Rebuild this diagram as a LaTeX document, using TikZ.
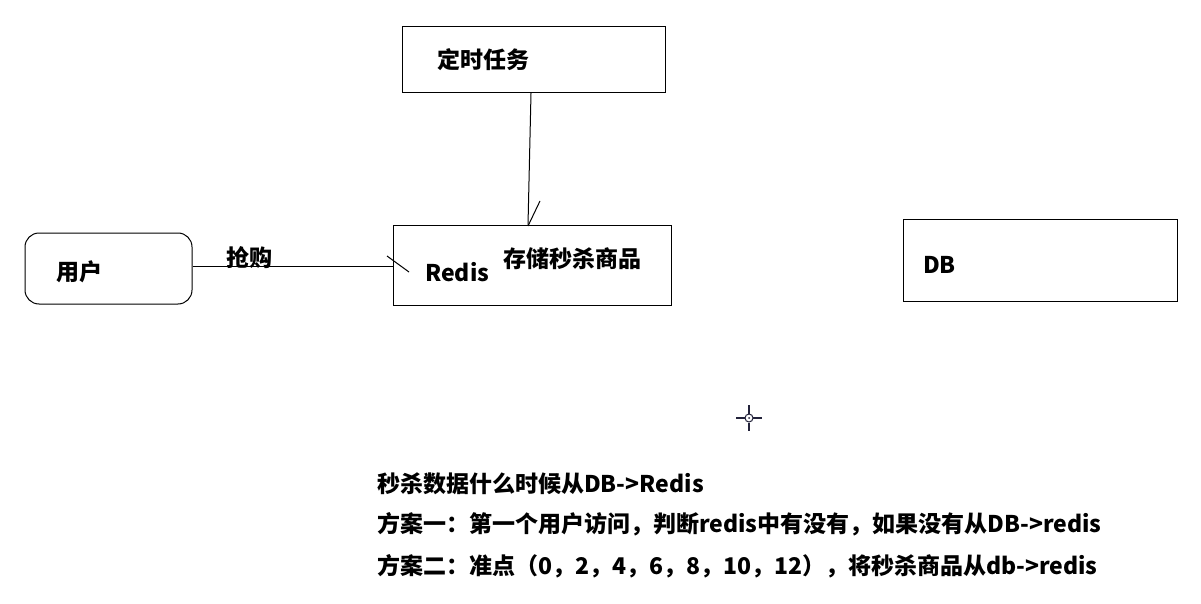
\documentclass[tikz,border=0pt]{standalone}
\usepackage{fontspec}
\setmainfont{Noto Sans CJK SC}
\begin{document}
\begin{tikzpicture}[x=1pt,y=-1pt,
  lbl/.style={inner sep=0pt,anchor=west,font=\fontsize{23}{23}\selectfont\bfseries},
  ln/.style={line width=1pt},
  cur/.style={line width=2pt,color=curcol}]
\definecolor{curcol}{HTML}{22223A}
\useasboundingbox (0,0) rectangle (1201,604);
\fill[white] (0,0) rectangle (1201,604);
% boxes
\node[draw,line width=1pt,inner sep=0pt,minimum width=263pt,minimum height=66pt] (timer) at (533.5,60) {};
\node[draw,line width=1pt,inner sep=0pt,minimum width=278pt,minimum height=80pt] (redis) at (532,265) {};
\node[draw,line width=1pt,inner sep=0pt,minimum width=274pt,minimum height=82pt] (db) at (1040,260) {};
\node[draw,line width=1pt,inner sep=0pt,minimum width=167pt,minimum height=71pt,rounded corners=14pt] (user) at (108.5,268.5) {};
% labels
\node[lbl] (t1) at (437,60) {定时任务};
\node[lbl] (t2) at (425,272) {Redis};
\node[lbl] (t3) at (503,259) {存储秒杀商品};
\node[lbl] (t4) at (923,265) {DB};
\node[lbl] (t5) at (56,272) {用户};
\node[lbl] (t6) at (226,258) {抢购};
\node[lbl] (l1) at (377,484) {秒杀数据什么时候从DB->Redis};
\node[lbl] (l2) at (377,524) {方案一：第一个用户访问，判断redis中有没有，如果没有从DB->redis};
\node[lbl] (l3) at (377,566) {方案二：准点（0，2，4，6，8，10，12），将秒杀商品从db->redis};
% connectors
\coordinate (a1) at (user.east |- 0,266);
\coordinate (a2) at (redis.west |- 0,266);
\draw[ln] (a1) -- (a2);
\draw[ln] (387,256) -- (409,272);
\coordinate (b1) at (531,93);
\coordinate (b2) at (528,225);
\draw[ln] (b1) -- (b2);
\draw[ln] (540,201) -- (528,226);
% cursor
\draw[cur] (736,418) -- (744.5,418) (753,418) -- (762,418);
\draw[cur] (749,405) -- (749,413.5) (749,422.5) -- (749,431);
\draw[line width=1pt,curcol] (749,418) circle (4pt);
\fill[curcol] (749,418) circle (1pt);
\end{tikzpicture}
\end{document}
